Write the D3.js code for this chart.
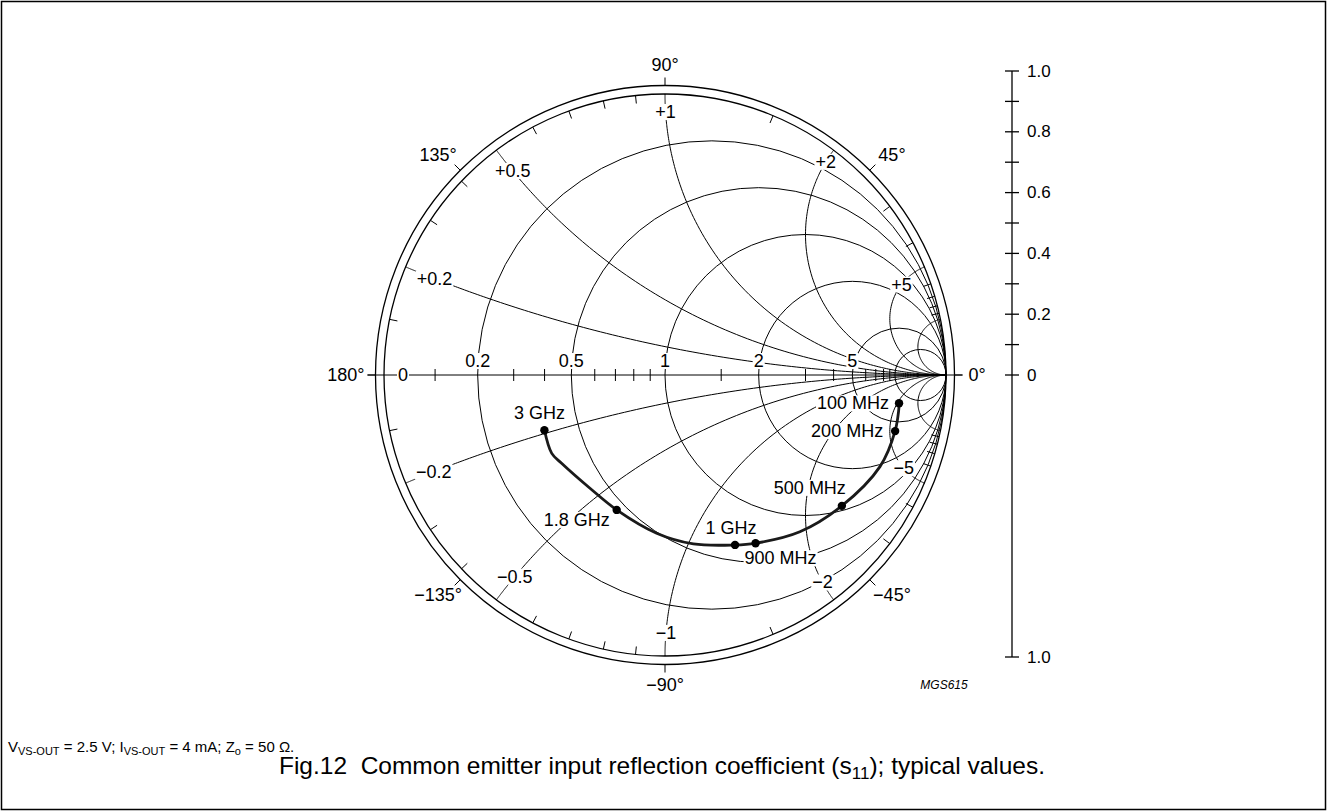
<!DOCTYPE html>
<html>
<head>
<meta charset="utf-8">
<script src="https://cdn.jsdelivr.net/npm/d3@7"></script>
<style>
  body { margin: 0; background: #fff; }
  svg { display: block; }
  text { font-family: "Liberation Sans", Arial, sans-serif; fill: #000; }
</style>
</head>
<body>
<div id="chart"></div>
<script>
// smith chart grid
var resistances = [0.2, 0.5, 1, 2, 5, 10];
var reactances = [0.2, 0.5, 1, 2, 5, 10, -0.2, -0.5, -1, -2, -5, -10];
var rLabels = [0.2, 0.5, 1, 2, 5];
var xLabels = [0.2, 0.5, 1, 2, 5, -0.2, -0.5, -1, -2, -5];
var minorTicks = [0.1, 0.3, 0.4, 0.6, 0.7, 0.8, 0.9, 1.5, 3, 4, 6, 7, 8, 9];
var angleTicks = [0, 45, 90, 135, 180, -45, -90, -135];
var scaleTicks = [1.0, 0.9, 0.8, 0.7, 0.6, 0.5, 0.4, 0.3, 0.2, 0.1, 0];
var scaleLabels = ["1.0", "0.8", "0.6", "0.4", "0.2", "0"];

// s11 markers
var freqLabels = ["100 MHz", "200 MHz", "500 MHz", "900 MHz", "1 GHz", "1.8 GHz", "3 GHz"];
var s11Mag = [0.839, 0.843, 0.783, 0.680, 0.654, 0.510, 0.472];
var s11Ang = [-6.9, -13.7, -36.5, -61.7, -67.6, -109.7, -155.4];
// traced curve, 100 MHz -> 3 GHz
var traceRe = [0.834, 0.819, 0.765, 0.629, 0.480, 0.321, 0.246, 0.101, -0.030, -0.172, -0.267, -0.368, -0.403, -0.429];
var traceIm = [-0.101, -0.199, -0.326, -0.466, -0.558, -0.599, -0.605, -0.601, -0.563, -0.480, -0.403, -0.314, -0.279, -0.196];

var W = 1327, H = 812;
var cx = 665, cy = 375, R = 281, RO = 289.5;
var fontSize = 18;

var svg = d3.select("#chart").append("svg").attr("width", W).attr("height", H);

svg.append("rect")
  .attr("x", 1.5).attr("y", 1.5)
  .attr("width", W - 3).attr("height", H - 4)
  .attr("fill", "none").attr("stroke", "#000").attr("stroke-width", 1.5);

var sx = d3.scaleLinear().domain([-1, 1]).range([cx - R, cx + R]);
var sy = d3.scaleLinear().domain([-1, 1]).range([cy + R, cy - R]);

function gamma(r, x) {
  var d = (r + 1) * (r + 1) + x * x;
  return [(r * r + x * x - 1) / d, (2 * x) / d];
}

var grid = svg.append("g").attr("fill", "none").attr("stroke", "#000").attr("stroke-width", 1);

// rings
grid.append("circle").attr("cx", cx).attr("cy", cy).attr("r", R).attr("stroke-width", 1.3);
grid.append("circle").attr("cx", cx).attr("cy", cy).attr("r", RO).attr("stroke-width", 1.3);

// constant resistance circles
grid.selectAll(".rc").data(resistances).enter().append("circle")
  .attr("class", "rc")
  .attr("cx", function(r) { return sx(r / (1 + r)); })
  .attr("cy", cy)
  .attr("r", function(r) { return sx(1 / (1 + r)) - sx(0); });

// constant reactance arcs
var rSamples = [0].concat(d3.range(-3, 4.01, 0.02).map(function(t) { return Math.pow(10, t); }));
var arcLine = d3.line()
  .x(function(p) { return sx(p[0]); })
  .y(function(p) { return sy(p[1]); });
grid.selectAll(".xc").data(reactances).enter().append("path")
  .attr("class", "xc")
  .attr("d", function(x) {
    return arcLine(rSamples.map(function(r) { return gamma(r, x); }));
  });

// real axis
grid.append("line")
  .attr("x1", cx - RO - 8).attr("x2", cx + RO + 8)
  .attr("y1", cy).attr("y2", cy);

// ticks on real axis
grid.selectAll(".rt").data(minorTicks).enter().append("line")
  .attr("class", "rt")
  .attr("x1", function(r) { return sx(gamma(r, 0)[0]); })
  .attr("x2", function(r) { return sx(gamma(r, 0)[0]); })
  .attr("y1", cy - 6).attr("y2", cy + 6);

// reactance ticks on the inner ring
var rimTicks = minorTicks.concat(minorTicks.map(function(v) { return -v; }));
grid.selectAll(".xt").data(rimTicks).enter().append("line")
  .attr("class", "xt")
  .each(function(x) {
    var g = gamma(0, x);
    var a = Math.atan2(g[1], g[0]);
    d3.select(this)
      .attr("x1", cx + R * Math.cos(a)).attr("y1", cy - R * Math.sin(a))
      .attr("x2", cx + (R - 8) * Math.cos(a)).attr("y2", cy - (R - 8) * Math.sin(a));
  });

// angle ticks outside the outer ring
grid.selectAll(".at").data(angleTicks).enter().append("line")
  .attr("class", "at")
  .each(function(deg) {
    var a = deg * Math.PI / 180;
    d3.select(this)
      .attr("x1", cx + RO * Math.cos(a)).attr("y1", cy - RO * Math.sin(a))
      .attr("x2", cx + (RO + 8) * Math.cos(a)).attr("y2", cy - (RO + 8) * Math.sin(a));
  });

// labels with white knock-out
var labels = svg.append("g");
function label(x, y, txt, anchor, size) {
  var g = labels.append("g");
  var t = g.append("text")
    .attr("x", x).attr("y", y)
    .attr("text-anchor", anchor || "middle")
    .attr("dominant-baseline", "central")
    .style("font-size", (size || fontSize) + "px")
    .text(txt);
  var b = t.node().getBBox();
  g.insert("rect", "text")
    .attr("x", b.x - 1).attr("y", b.y + 2)
    .attr("width", b.width + 2).attr("height", b.height - 4)
    .attr("fill", "#fff");
  return t;
}
function fmt(v) {
  return (v < 0 ? "\u2212" : "") + Math.abs(v);
}

label(sx(-1) + 19, cy, "0");
rLabels.forEach(function(r) {
  label(sx(gamma(r, 0)[0]), cy - 14, fmt(r));
});

// reactance labels sit on their arc near the rim, at |gamma| = k
var labelRadius = { "0.2": 0.889, "0.5": 0.906, "1": 0.936, "2": 0.95, "5": 0.901,
  "-0.2": 0.892, "-0.5": 0.895, "-1": 0.918, "-2": 0.927, "-5": 0.912 };
xLabels.forEach(function(x) {
  var k = labelRadius[String(x)], k2 = k * k;
  var disc = (1 + k2) * (1 + k2) - (1 - k2) * (1 - k2) * (1 + x * x);
  var r = ((1 + k2) - Math.sqrt(Math.max(disc, 0))) / (1 - k2);
  var g = gamma(r, x);
  label(sx(g[0]), sy(g[1]), (x > 0 ? "+" : "") + fmt(x));
});

// angle labels
angleTicks.forEach(function(deg) {
  var a = deg * Math.PI / 180;
  var txt = fmt(deg) + "\u00b0";
  if (deg === 0) {
    label(cx + RO + 14, cy, txt, "start");
  } else if (deg === 180) {
    label(cx - RO - 11, cy, txt, "end");
  } else if (deg === 90) {
    label(cx, cy - RO - 21, txt);
  } else if (deg === -90) {
    label(cx, cy + RO + 20, txt);
  } else {
    label(cx + 321 * Math.cos(a), cy - 311 * Math.sin(a), txt);
  }
});

// s11 trace
var trace = traceRe.map(function(v, i) { return [v, traceIm[i]]; });
svg.append("path")
  .attr("d", d3.line()
    .x(function(p) { return sx(p[0]); })
    .y(function(p) { return sy(p[1]); })
    .curve(d3.curveCatmullRom.alpha(0.5))(trace))
  .attr("fill", "none").attr("stroke", "#1a1a1a").attr("stroke-width", 2.8)
  .attr("stroke-linejoin", "round");

var markers = freqLabels.map(function(f, i) {
  var a = s11Ang[i] * Math.PI / 180;
  return { name: f, re: s11Mag[i] * Math.cos(a), im: s11Mag[i] * Math.sin(a) };
});
// label offset relative to the dot: [dx, dy, anchor]
var markerLayout = [[-10, 0, "end"], [-12, 0, "end"], [-32, -18, "middle"], [-11, 15, "start"],
  [-4, -17, "middle"], [-7, 10, "end"], [-5, -17, "middle"]];

markers.forEach(function(m, i) {
  var px = sx(m.re), py = sy(m.im), o = markerLayout[i];
  label(px + o[0], py + o[1], m.name, o[2]);
});

svg.append("g").selectAll("circle").data(markers).enter().append("circle")
  .attr("cx", function(m) { return sx(m.re); })
  .attr("cy", function(m) { return sy(m.im); })
  .attr("r", 4.2)
  .attr("fill", "#000");

// magnitude scale on the right
var scaleX = 1012;
var upper = d3.scaleLinear().domain([0, 1]).range([cy, 71]);
var lower = d3.scaleLinear().domain([0, 1]).range([cy, cy + R + 1]);
var sc = svg.append("g").attr("stroke", "#000").attr("stroke-width", 1.3);
sc.append("line").attr("x1", scaleX).attr("x2", scaleX).attr("y1", upper(1)).attr("y2", lower(1));
sc.selectAll(".st").data(scaleTicks).enter().append("line")
  .attr("x1", scaleX - 7).attr("x2", scaleX + 7)
  .attr("y1", function(v) { return upper(v); })
  .attr("y2", function(v) { return upper(v); });
sc.append("line").attr("x1", scaleX - 7).attr("x2", scaleX + 7)
  .attr("y1", lower(1)).attr("y2", lower(1));
svg.append("g").selectAll("text").data(scaleLabels).enter().append("text")
  .attr("x", scaleX + 15)
  .attr("y", function(s) { return upper(+s); })
  .attr("dominant-baseline", "central")
  .style("font-size", "17px")
  .text(function(s) { return s; });
svg.append("text")
  .attr("x", scaleX + 15).attr("y", lower(1))
  .attr("dominant-baseline", "central")
  .style("font-size", "17px")
  .text("1.0");

// figure code
svg.append("text")
  .attr("x", 944).attr("y", cy + RO + 20)
  .attr("text-anchor", "middle")
  .attr("dominant-baseline", "central")
  .style("font-size", "12px").style("font-style", "italic")
  .text("MGS615");

// conditions note
var note = svg.append("text").attr("x", 8).attr("y", 752).style("font-size", "15px");
note.append("tspan").text("V");
note.append("tspan").attr("dy", 3).style("font-size", "11px").text("VS-OUT");
note.append("tspan").attr("dy", -3).text(" = 2.5 V; I");
note.append("tspan").attr("dy", 3).style("font-size", "11px").text("VS-OUT");
note.append("tspan").attr("dy", -3).text(" = 4 mA; Z");
note.append("tspan").attr("dy", 3).style("font-size", "11px").text("o");
note.append("tspan").attr("dy", -3).text(" = 50 \u03a9.");

// caption
var cap = svg.append("text").attr("x", 662).attr("y", 774)
  .attr("text-anchor", "middle").style("font-size", "24.5px");
cap.append("tspan").text("Fig.12\u00a0\u00a0Common emitter input reflection coefficient (s");
cap.append("tspan").attr("dy", 5).style("font-size", "17px").text("11");
cap.append("tspan").attr("dy", -5).text("); typical values.");
</script>
</body>
</html>
